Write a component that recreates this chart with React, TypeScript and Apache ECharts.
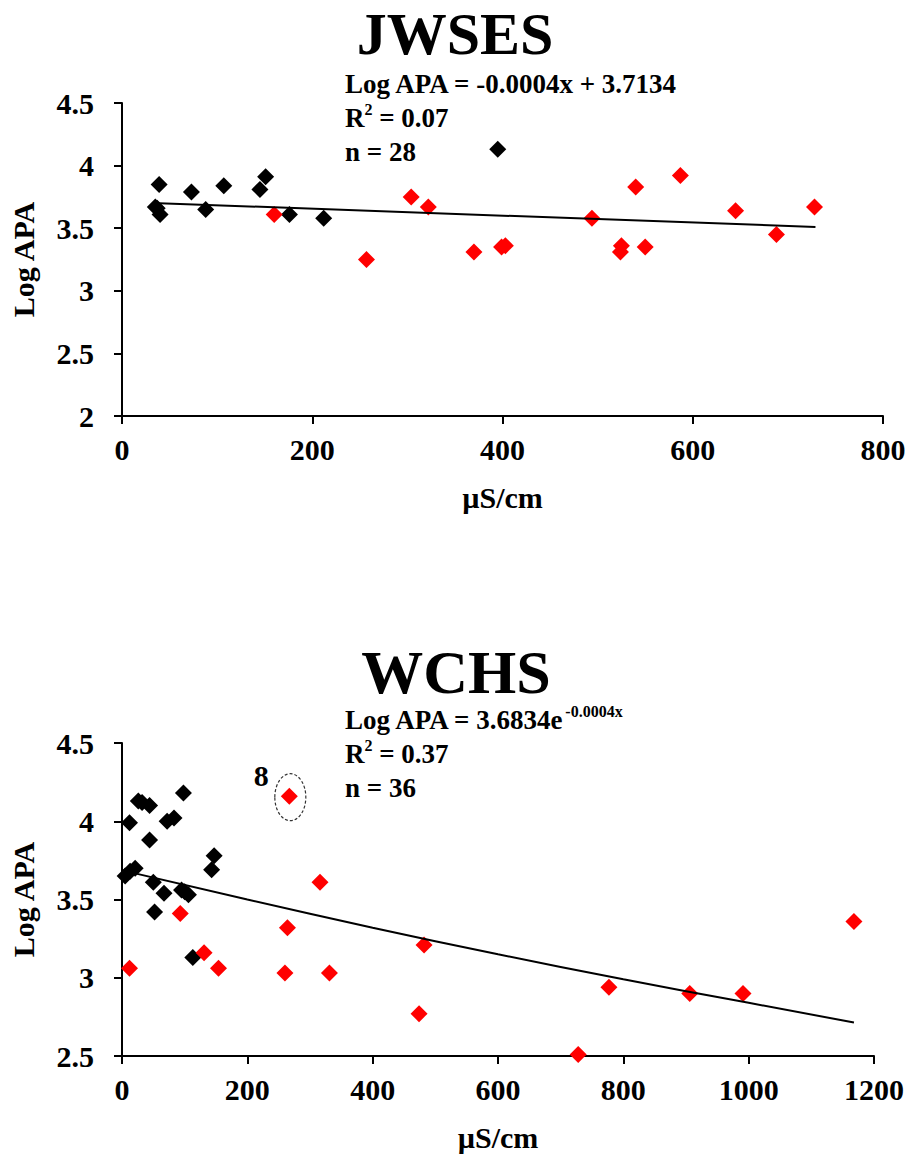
import React, { useEffect, useRef } from "react";
import * as echarts from "echarts";

// ---- JWSES (top) ----
const topBlack: number[][] = [
  [39, 3.85], [37, 3.66], [40, 3.61], [35, 3.67], [73, 3.79], [88, 3.65],
  [107, 3.84], [145, 3.81], [151, 3.91], [176, 3.61], [212, 3.58], [395, 4.13],
];
const topRed: number[][] = [
  [160, 3.61], [257, 3.25], [304, 3.75], [322, 3.67], [370, 3.31], [399, 3.35],
  [403, 3.36], [494, 3.58], [525, 3.36], [524, 3.31], [540, 3.83], [550, 3.35],
  [587, 3.92], [645, 3.64], [688, 3.45], [728, 3.67],
];
const topTrend: number[][] = [[39, 3.70], [729, 3.51]];

// ---- WCHS (bottom) ----
const bottomBlack: number[][] = [
  [12, 3.99], [26, 4.13], [32, 4.12], [44, 4.10], [98, 4.18], [44, 3.88],
  [72, 4.0], [83, 4.02], [5, 3.65], [13, 3.68], [21, 3.7], [50, 3.61],
  [67, 3.54], [95, 3.56], [100, 3.55], [106, 3.53], [147, 3.78], [143, 3.69],
  [52, 3.42], [113, 3.13],
];
const bottomRed: number[][] = [
  [12, 3.06], [93, 3.41], [131, 3.16], [154, 3.06], [267, 4.16], [264, 3.32],
  [260, 3.03], [316, 3.61], [331, 3.03], [482, 3.21], [474, 2.77], [728, 2.51],
  [777, 2.94], [906, 2.9], [991, 2.9], [1168, 3.36],
];
const bottomTrend: number[][] = [
  [21, 3.667], [200, 3.5], [400, 3.32], [600, 3.15], [800, 2.99], [1000, 2.84], [1168, 2.714],
];
const outlierPoint: number[] = [267, 4.16];

const titles = ["JWSES", "WCHS"];
const eqTop = ["Log APA = -0.0004x + 3.7134", "0.07", "28"];
const eqBottom = ["Log APA = 3.6834e", "-0.0004x", "0.37", "36"];

const SERIF = '"Liberation Serif", "Times New Roman", serif';

export default function App() {
  const ref = useRef<HTMLDivElement>(null);
  useEffect(() => {
    if (!ref.current) return;
    const chart = echarts.init(ref.current, undefined, { renderer: "svg" });

    const labelStyle = {
      color: "#000",
      fontFamily: SERIF,
      fontWeight: "bold" as const,
      fontSize: 30,
    };
    const axisCommon = {
      axisLine: { show: true, lineStyle: { color: "#000", width: 2 } },
      axisTick: { show: true, inside: false, length: 8, lineStyle: { color: "#000", width: 2 } },
      splitLine: { show: false },
      nameTextStyle: { ...labelStyle },
    };
    const xAxis = (gridIndex: number, max: number) => ({
      type: "value",
      gridIndex,
      min: 0,
      max,
      interval: 200,
      name: "µS/cm",
      nameLocation: "middle",
      nameGap: 66,
      axisLabel: { ...labelStyle, margin: 18, formatter: (v: number) => String(v) },
      ...axisCommon,
    });
    const yAxis = (gridIndex: number, min: number) => ({
      type: "value",
      gridIndex,
      min,
      max: 4.5,
      interval: 0.5,
      name: "Log APA",
      nameLocation: "middle",
      nameGap: 84,
      nameRotate: 90,
      axisLabel: { ...labelStyle, margin: 28, formatter: (v: number) => String(v) },
      ...axisCommon,
    });
    const scatter = (xi: number, data: number[][], color: string) => ({
      type: "scatter",
      xAxisIndex: xi,
      yAxisIndex: xi,
      data,
      symbol: "diamond",
      symbolSize: 17,
      itemStyle: { color, opacity: 1 },
      z: color === "#ff0000" ? 3 : 2,
    });
    const trend = (xi: number, data: number[][], smooth: boolean) => ({
      type: "line",
      xAxisIndex: xi,
      yAxisIndex: xi,
      data,
      smooth,
      showSymbol: false,
      symbol: "none",
      lineStyle: { color: "#000", width: 2 },
      z: 4,
    });

    const main = { fontFamily: SERIF, fontWeight: "bold" as const, fontSize: 27, lineHeight: 34, verticalAlign: "bottom" as const, color: "#000" };
    const sup = { fontFamily: SERIF, fontWeight: "bold" as const, fontSize: 16, lineHeight: 18, padding: [4, 0, 0, 0], verticalAlign: "top" as const, color: "#000" };

    chart.setOption({
      animation: false,
      backgroundColor: "#fff",
      grid: [
        { left: 121, top: 103, width: 762, height: 313, containLabel: false },
        { left: 121, top: 743, width: 753, height: 313, containLabel: false },
      ],
      xAxis: [xAxis(0, 800), xAxis(1, 1200)],
      yAxis: [yAxis(0, 2), yAxis(1, 2.5)],
      series: [
        trend(0, topTrend, false),
        scatter(0, topBlack, "#000000"),
        scatter(0, topRed, "#ff0000"),
        trend(1, bottomTrend, true),
        scatter(1, bottomBlack, "#000000"),
        scatter(1, bottomRed, "#ff0000"),
      ],
    });

    const p = chart.convertToPixel({ gridIndex: 1 }, outlierPoint) as number[];

    chart.setOption({
      graphic: [
        {
          type: "text", x: 455, y: 34,
          style: { text: titles[0], font: `bold 60px ${SERIF}`, align: "center", verticalAlign: "middle", fill: "#000" },
        },
        {
          type: "text", x: 456, y: 672,
          style: { text: titles[1], font: `bold 62px ${SERIF}`, align: "center", verticalAlign: "middle", fill: "#000" },
        },
        {
          type: "text", x: 345, y: 63,
          style: {
            text: `{b|${eqTop[0]}}\n{b|R}{s|2}{b| = ${eqTop[1]}}\n{b|n = ${eqTop[2]}}`,
            rich: { b: main, s: sup },
            align: "left",
            verticalAlign: "top",
          },
        },
        {
          type: "text", x: 345, y: 699,
          style: {
            text: `{b|${eqBottom[0]}}{s|${eqBottom[1]}}\n{b|R}{s|2}{b| = ${eqBottom[2]}}\n{b|n = ${eqBottom[3]}}`,
            rich: { b: main, s: sup },
            align: "left",
            verticalAlign: "top",
          },
        },
        {
          type: "ellipse",
          shape: { cx: p[0] + 1, cy: p[1] + 1, rx: 15.5, ry: 23.5 },
          style: { fill: "none", stroke: "#333", lineWidth: 1.2, lineDash: [3, 2] },
          z: 10,
        },
        {
          type: "text", x: p[0] - 28, y: p[1] - 21,
          style: { text: "8", font: `bold 30px ${SERIF}`, align: "center", verticalAlign: "middle", fill: "#000" },
          z: 10,
        },
      ],
    });

    return () => chart.dispose();
  }, []);

  return (
    <div
      ref={ref}
      style={{ position: "absolute", left: 0, top: 0, width: 911, height: 1156, background: "#fff" }}
    />
  );
}
